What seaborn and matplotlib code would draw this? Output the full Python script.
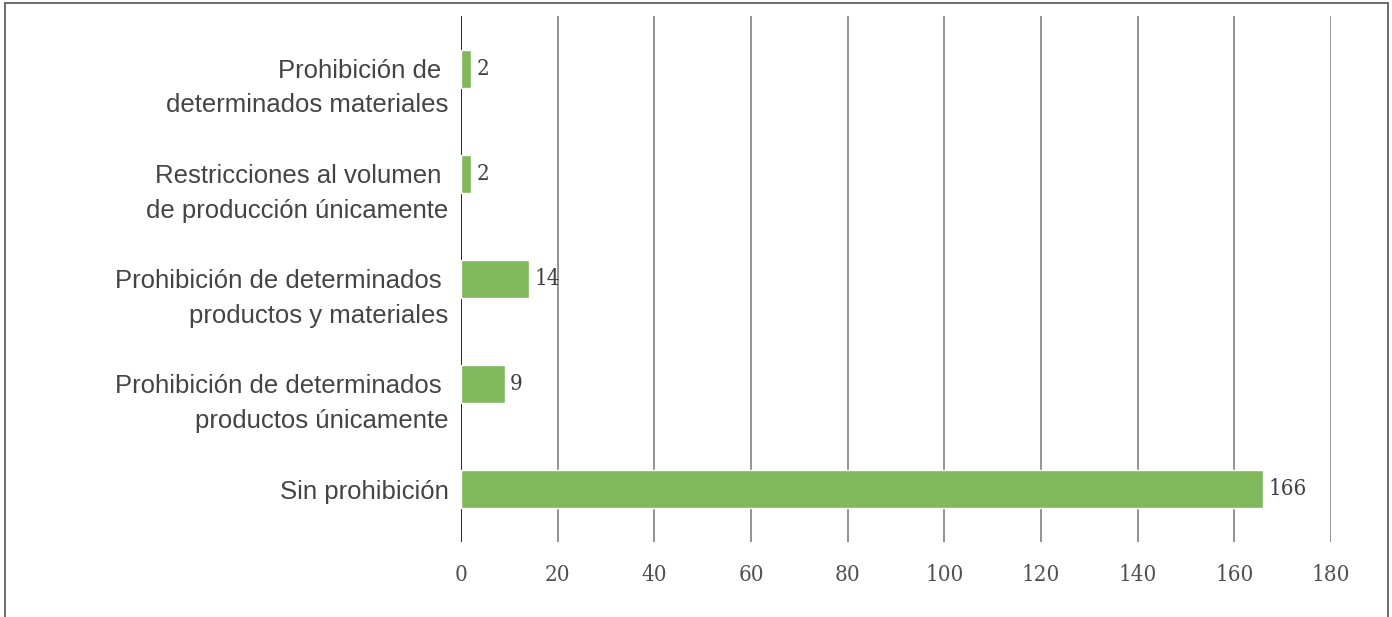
import pandas as pd
import seaborn as sns
import matplotlib.pyplot as plt
from matplotlib.lines import Line2D

categorias = [
    "Prohibición de \ndeterminados materiales",
    "Restricciones al volumen \nde producción únicamente",
    "Prohibición de determinados \nproductos y materiales",
    "Prohibición de determinados \nproductos únicamente",
    "Sin prohibición",
]
valores = [2, 2, 14, 9, 166]
xticks = [0, 20, 40, 60, 80, 100, 120, 140, 160, 180]

df = pd.DataFrame({"cat": categorias, "val": valores})

sns.set_style("white")

fig = plt.figure(figsize=(13.92, 6.17), dpi=100)
ax = fig.add_axes([461 / 1392, 75 / 617, 870 / 1392, 526 / 617])

sns.barplot(data=df, x="val", y="cat", orient="h", color="#80B85C",
            saturation=1, width=0.36, ax=ax)

numfont = dict(family="DejaVu Serif", stretch="condensed", fontsize=16)

ax.set_xlim(0, 180)
ax.set_ylim(4.5, -0.5)
ax.set_xticks(xticks)
ax.set_xticklabels([str(t) for t in xticks], color="#505050", **numfont)
ax.tick_params(axis="x", length=0, pad=16)
ax.set_xlabel("")
ax.set_ylabel("")
ax.set_yticks([])
for t in xticks:
    ax.axvline(t, color="black" if t == 0 else "#808080", lw=1.2, zorder=0)
for s in ax.spines.values():
    s.set_visible(False)

# category labels, first line centered on the bar
for i, c in enumerate(categorias):
    ax.annotate(c, xy=(0, i), xycoords=("axes fraction", "data"),
                xytext=(-9, 7), textcoords="offset points",
                ha="right", va="top", fontsize=18.5,
                family="Liberation Sans", color="#444444", linespacing=1.55)

# value labels
for i, v in enumerate(valores):
    ax.annotate(str(v), xy=(v, i), xytext=(4, 0), textcoords="offset points",
                ha="left", va="center", color="#404040", **numfont)

# outer frame (bottom open)
fig.add_artist(Line2D([5 / 1392, 5 / 1392], [0, 1 - 3 / 617], color="#555555", lw=1.2))
fig.add_artist(Line2D([5 / 1392, 1388 / 1392], [1 - 3 / 617, 1 - 3 / 617], color="#555555", lw=1.2))
fig.add_artist(Line2D([1388 / 1392, 1388 / 1392], [0, 1 - 3 / 617], color="#555555", lw=1.2))

fig.savefig("out.png", dpi=100)
